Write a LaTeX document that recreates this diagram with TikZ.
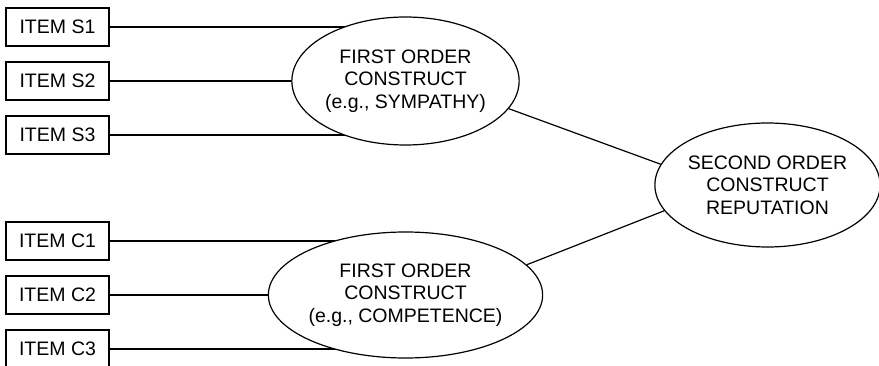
\documentclass[tikz,border=0pt]{standalone}
\usepackage{fontspec}
\setmainfont{Liberation Sans}
\usetikzlibrary{shapes.geometric,backgrounds}
\begin{document}
\begin{tikzpicture}[x=1pt,y=-1pt,
  every node/.style={font=\fontsize{19.5}{22.5}\selectfont},
  itembox/.style={draw,line width=1.2pt,minimum width=103pt,minimum height=38pt,inner sep=0pt},
  construct/.style={draw,line width=1.2pt,ellipse,fill=white,inner sep=0pt,align=center},
  link/.style={line width=1.2pt}]
\useasboundingbox (0,0) rectangle (879,366);
\node[itembox] (s1) at (57.5,27) {ITEM S1};
\node[itembox] (s2) at (57.5,81) {ITEM S2};
\node[itembox] (s3) at (57.5,135) {ITEM S3};
\node[itembox] (c1) at (57.5,241) {ITEM C1};
\node[itembox] (c2) at (57.5,295) {ITEM C2};
\node[itembox] (c3) at (57.5,349) {ITEM C3};
\node[construct,minimum width=225pt,minimum height=128pt] (fo1) at (405.5,81) {FIRST ORDER\\CONSTRUCT\\(e.g., SYMPATHY)};
\node[construct,minimum width=225pt,minimum height=126pt] (fo2) at (405.5,295) {FIRST ORDER\\CONSTRUCT\\(e.g., COMPETENCE)};
\node[construct,minimum width=221pt,minimum height=124pt] (so) at (767.5,185) {SECOND ORDER\\CONSTRUCT\\REPUTATION};
\begin{scope}[on background layer]
\draw[link] (s1.east) -- (s1.east -| fo1.center);
\draw[link] (s2.east) -- (s2.east -| fo1.center);
\draw[link] (s3.east) -- (s3.east -| fo1.center);
\draw[link] (c1.east) -- (c1.east -| fo2.center);
\draw[link] (c2.east) -- (c2.east -| fo2.center);
\draw[link] (c3.east) -- (c3.east -| fo2.center);
\end{scope}
\draw[link] (fo1.-15) -- (so.169);
\draw[link] (fo2.14) -- (so.194);
\end{tikzpicture}
\end{document}
